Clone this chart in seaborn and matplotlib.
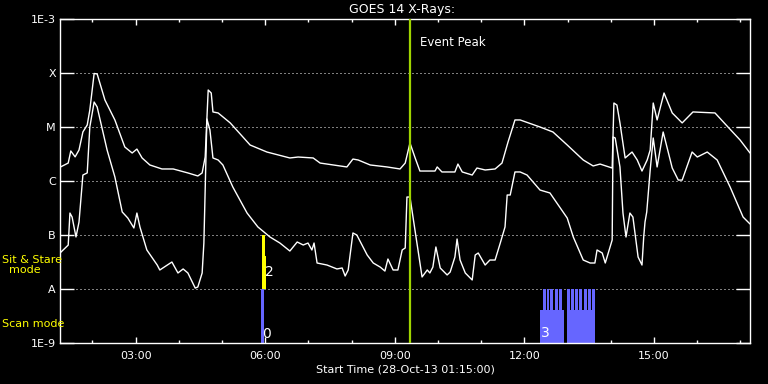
import matplotlib
matplotlib.use("Agg")
import matplotlib.pyplot as plt
import matplotlib.ticker as mticker
import pandas as pd
import seaborn as sns

# GOES 14 long channel (1-8 A): hours UT on 28-Oct-13, flux W/m^2
long_hours = [1.25, 1.44, 1.50, 1.60, 1.69, 1.78, 1.88, 1.94, 2.04, 2.11, 2.29, 2.52, 2.75, 2.92,
              3.03, 3.15, 3.33, 3.61, 3.87, 4.21, 4.44, 4.54, 4.61, 4.68, 4.75, 4.79, 4.91, 5.19,
              5.65, 6.04, 6.57, 6.76, 7.11, 7.27, 7.89, 8.03, 8.15, 8.43, 8.82, 9.12, 9.24, 9.35,
              9.47, 9.58, 9.93, 9.98, 10.09, 10.39, 10.46, 10.56, 10.79, 10.90, 11.09, 11.32,
              11.48, 11.62, 11.78, 11.90, 12.36, 12.66, 12.99, 13.36, 13.59, 13.75, 14.03, 14.07,
              14.14, 14.21, 14.33, 14.49, 14.61, 14.72, 14.84, 14.91, 14.98, 15.07, 15.23, 15.42,
              15.65, 15.90, 16.41, 16.71, 16.99, 17.22]
long_flux = [1.8e-6, 2.15e-6, 3.6e-6, 2.8e-6, 3.75e-6, 8.1e-6, 1.09e-5, 2.06e-5, 9.8e-5, 9.6e-5,
             3.16e-5, 1.35e-5, 4.26e-6, 3.3e-6, 3.9e-6, 2.67e-6, 1.98e-6, 1.67e-6, 1.67e-6, 1.41e-6,
             1.24e-6, 1.41e-6, 2.78e-6, 4.84e-5, 4.26e-5, 1.9e-5, 1.82e-5, 1.19e-5, 4.64e-6, 3.44e-6,
             2.67e-6, 2.78e-6, 2.67e-6, 2.15e-6, 1.82e-6, 2.55e-6, 2.45e-6, 1.98e-6, 1.82e-6, 1.67e-6,
             2.15e-6, 5.05e-6, 2.67e-6, 1.53e-6, 1.53e-6, 1.82e-6, 1.47e-6, 1.47e-6, 2.06e-6, 1.47e-6,
             1.29e-6, 1.74e-6, 1.6e-6, 1.67e-6, 2.15e-6, 5.28e-6, 1.35e-5, 1.35e-5, 1.0e-5, 8.08e-6,
             4.64e-6, 2.45e-6, 1.9e-6, 2.06e-6, 1.74e-6, 2.78e-5, 2.55e-5, 1.19e-5, 2.67e-6, 3.44e-6,
             2.45e-6, 1.53e-6, 2.45e-6, 3.75e-6, 2.78e-5, 1.35e-5, 4.26e-5, 1.82e-5, 1.19e-5, 1.9e-5,
             1.82e-5, 1.0e-5, 5.75e-6, 3.3e-6]

# short channel (0.5-4 A)
short_hours = [1.25, 1.44, 1.48, 1.53, 1.62, 1.69, 1.78, 1.88, 1.94, 2.04, 2.11, 2.34, 2.52, 2.69,
               2.82, 2.96, 3.03, 3.10, 3.26, 3.50, 3.56, 3.84, 3.98, 4.10, 4.21, 4.38, 4.44, 4.54,
               4.58, 4.65, 4.72, 4.79, 4.91, 5.02, 5.25, 5.58, 5.83, 6.11, 6.34, 6.57, 6.74, 6.88,
               6.99, 7.08, 7.13, 7.20, 7.43, 7.66, 7.78, 7.85, 7.92, 8.03, 8.12, 8.36, 8.50, 8.66,
               8.77, 8.84, 8.96, 9.07, 9.17, 9.24, 9.28, 9.35, 9.42, 9.51, 9.63, 9.75, 9.81, 9.88,
               9.95, 10.05, 10.21, 10.28, 10.39, 10.44, 10.51, 10.63, 10.79, 10.86, 10.93, 11.09,
               11.20, 11.32, 11.44, 11.55, 11.60, 11.67, 11.78, 11.90, 12.06, 12.36, 12.59, 12.75,
               12.99, 13.13, 13.36, 13.52, 13.63, 13.68, 13.80, 13.87, 13.94, 14.03, 14.05, 14.10,
               14.21, 14.28, 14.35, 14.44, 14.51, 14.63, 14.72, 14.76, 14.79, 14.83, 14.91, 14.98,
               15.07, 15.21, 15.42, 15.56, 15.65, 15.88, 16.00, 16.23, 16.46, 16.76, 17.06, 17.22]
short_flux = [4.64e-8, 6.5e-8, 2.55e-7, 2.15e-7, 9.2e-8, 1.74e-7, 1.29e-6, 1.41e-6, 1.0e-5, 2.9e-5,
              2.35e-5, 3.75e-6, 1.19e-6, 2.67e-7, 2.06e-7, 1.35e-7, 2.55e-7, 1.41e-7, 5.28e-8, 2.78e-8,
              2.25e-8, 3.16e-8, 1.98e-8, 2.35e-8, 1.98e-8, 1.04e-8, 1.09e-8, 1.98e-8, 7.1e-8, 1.41e-5,
              8.8e-6, 2.67e-6, 2.45e-6, 1.98e-6, 7.74e-7, 2.55e-7, 1.41e-7, 9.18e-8, 7.1e-8, 5.05e-8,
              7.42e-8, 6.53e-8, 7.1e-8, 5.28e-8, 7.1e-8, 3.03e-8, 2.78e-8, 2.35e-8, 2.45e-8, 1.74e-8,
              2.25e-8, 1.09e-7, 1.0e-7, 4.26e-8, 3.03e-8, 2.55e-8, 2.15e-8, 3.59e-8, 2.25e-8, 2.25e-8,
              5.28e-8, 5.75e-8, 5.05e-7, 5.05e-7, 2.15e-7, 7.1e-8, 1.67e-8, 2.25e-8, 1.98e-8, 2.55e-8,
              6.0e-8, 2.45e-8, 1.82e-8, 2.06e-8, 3.91e-8, 8.43e-8, 3.44e-8, 1.98e-8, 1.47e-8, 4.26e-8,
              4.64e-8, 2.78e-8, 3.44e-8, 3.44e-8, 7.1e-8, 1.41e-7, 5.5e-7, 5.5e-7, 1.47e-6, 1.47e-6,
              1.29e-6, 6.8e-7, 6.0e-7, 3.91e-7, 2.06e-7, 9.18e-8, 3.44e-8, 3.03e-8, 3.03e-8, 5.28e-8,
              4.64e-8, 3.03e-8, 4.64e-8, 8.08e-8, 6.53e-6, 6.26e-6, 1.82e-6, 2.55e-7, 9.18e-8, 2.55e-7,
              2.15e-7, 3.91e-8, 2.78e-8, 9.18e-8, 1.74e-7, 2.67e-7, 1.6e-6, 6.26e-6, 1.82e-6, 8.08e-6,
              1.74e-6, 1.04e-6, 1.04e-6, 3.44e-6, 2.78e-6, 3.44e-6, 2.45e-6, 7.74e-7, 2.15e-7, 1.6e-7]

# observing mode intervals (hours) and bar tops
scan_start = [5.90, 12.36, 12.99, 12.43, 12.52, 12.59, 12.71, 12.80, 12.99, 13.08, 13.17, 13.26,
              13.38, 13.47, 13.56]
scan_end = [5.97, 12.92, 13.63, 12.49, 12.57, 12.66, 12.78, 12.87, 13.05, 13.15, 13.24, 13.33,
            13.45, 13.54, 13.63]
scan_top = [1e-8, 4.1e-9, 4.1e-9] + [1e-8] * 12
stare_start = [5.93, 5.93]
stare_end = [5.995, 6.02]
stare_top = [1e-7, 4.1e-8]

mode_text = ["0", "2", "3"]
mode_hours = [6.02, 6.10, 12.48]
mode_flux = [1.45e-9, 2.06e-8, 1.5e-9]

event_peak = 9.35
t_start, t_end = 1.25, 17.22

flux_ticks = [1e-3, 1e-4, 1e-5, 1e-6, 1e-7, 1e-8, 1e-9]
flux_labels = ["1E-3", "X", "M", "C", "B", "A", "1E-9"]
hour_ticks = [3, 6, 9, 12, 15]
hour_labels = ["03:00", "06:00", "09:00", "12:00", "15:00"]

sns.set_style("dark", rc={"axes.facecolor": "black", "figure.facecolor": "black"})
plt.rcParams['font.family'] = ['DejaVu Sans']

fig = plt.figure(figsize=(7.68, 3.84), dpi=100)
ax = fig.add_axes([60 / 768, 41 / 384, 690 / 768, 324 / 384])
ax.set_facecolor("black")

ax.set_yscale("log")
ax.set_ylim(1e-9, 1e-3)
ax.set_xlim(t_start, t_end)

ax.grid(False)
for f in flux_ticks[1:-1]:
    ax.axhline(f, color="white", lw=0.72, linestyle=(0, (1, 3)), zorder=1)

long_df = pd.DataFrame({"hour": long_hours, "flux": long_flux})
short_df = pd.DataFrame({"hour": short_hours, "flux": short_flux})
sns.lineplot(data=long_df, x="hour", y="flux", ax=ax, color="white", lw=1.0,
             estimator=None, sort=False, zorder=3)
sns.lineplot(data=short_df, x="hour", y="flux", ax=ax, color="white", lw=1.0,
             estimator=None, sort=False, zorder=3)

base = 1e-9
ax.bar(scan_start, [t - base for t in scan_top], width=[e - s for s, e in zip(scan_start, scan_end)],
       bottom=base, align="edge", color="#6666ff", lw=0, zorder=2)
ax.bar(stare_start, [t - 1e-8 for t in stare_top], width=[e - s for s, e in zip(stare_start, stare_end)],
       bottom=1e-8, align="edge", color="#ffff00", lw=0, zorder=2)
for txt, h, f in zip(mode_text, mode_hours, mode_flux):
    ax.text(h, f, txt, color="white", fontsize=10, ha="center", va="center", zorder=4)

ax.axvline(event_peak, color="#9fd400", lw=1.6, zorder=4)
ax.text(event_peak + 0.23, 3.6e-4, "Event Peak", color="white", fontsize=8.5, va="center", ha="left")

ax.set_yticks(flux_ticks, flux_labels)
ax.yaxis.set_minor_locator(mticker.NullLocator())
ax.set_xticks(hour_ticks, hour_labels)
ax.xaxis.set_minor_locator(mticker.MultipleLocator(1))
ax.tick_params(axis="y", which="major", direction="in", length=10, width=1, color="white",
               labelcolor="white", labelsize=8, left=True, right=True, pad=3)
ax.tick_params(axis="x", which="major", direction="in", length=4.5, width=1, color="white",
               labelcolor="white", labelsize=8, top=True, bottom=True, pad=6)
ax.tick_params(axis="x", which="minor", direction="in", length=2.5, width=1, color="white",
               top=True, bottom=True)
ax.set_xlabel("")
ax.set_ylabel("")
for s in ax.spines.values():
    s.set_color("white")
    s.set_linewidth(1)

fig.text(402 / 768, 1 - 10 / 384, "GOES 14 X-Rays:", color="white", fontsize=9, ha="center", va="center")
fig.text(405 / 768, 1 - 369 / 384, "Start Time (28-Oct-13 01:15:00)", color="white", fontsize=8,
         ha="center", va="center")
fig.text(2 / 768, 1 - 265 / 384, "Sit & Stare\n  mode", color="#ffff00", fontsize=8,
         ha="left", va="center", linespacing=1.1)
fig.text(2 / 768, 1 - 324 / 384, "Scan mode", color="#ffff00", fontsize=8, ha="left", va="center")

fig.savefig("out.png", dpi=100, facecolor="black")
